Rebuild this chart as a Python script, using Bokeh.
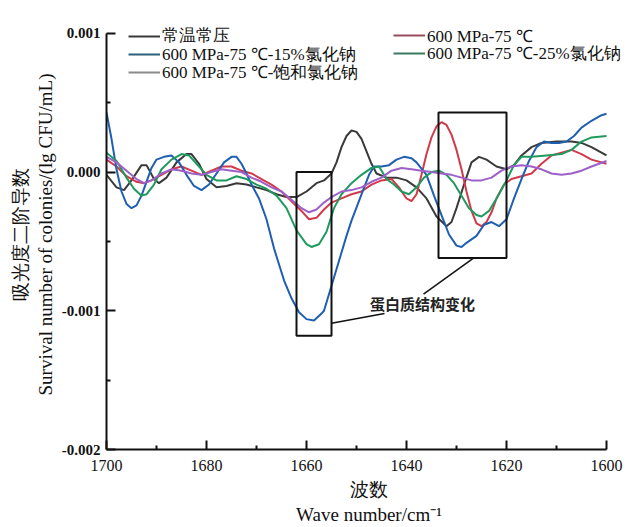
from bokeh.plotting import figure
from bokeh.models import (Range1d, FixedTicker, PrintfTickFormatter, Legend, LegendItem,
                          BoxAnnotation, Label)
from bokeh.embed import file_html
from bokeh.resources import INLINE

# ---------------- data (second-derivative absorbance, units of 1e-3) ----------------
black_x = [1700, 1698, 1696.5, 1695, 1693, 1692, 1690.5, 1689.5, 1688, 1686, 1684, 1683, 1681.5, 1680,
           1678, 1676, 1674, 1672, 1670, 1668, 1666, 1664, 1662, 1660, 1658, 1656.5, 1655, 1654, 1653,
           1652, 1651, 1650, 1649, 1648, 1647, 1646, 1644, 1642, 1640, 1638, 1636, 1634, 1632, 1631,
           1630, 1628.5, 1627, 1625.5, 1624, 1622, 1620, 1618.5, 1617, 1615, 1613, 1610, 1607, 1605,
           1603, 1601, 1600]
black_y = [-0.02, -0.11, -0.13, -0.06, 0.05, 0.05, -0.05, -0.08, -0.04, 0.07, 0.13, 0.13, 0.06, -0.05,
           -0.11, -0.10, -0.08, -0.09, -0.11, -0.13, -0.16, -0.18, -0.18, -0.14, -0.08, -0.06, -0.01, 0.07,
           0.18, 0.26, 0.30, 0.29, 0.24, 0.15, 0.06, -0.01, -0.04, -0.04, -0.06, -0.11, -0.19, -0.32, -0.39,
           -0.36, -0.26, -0.09, 0.07, 0.11, 0.09, 0.04, 0.02, 0.05, 0.12, 0.18, 0.21, 0.22, 0.22, 0.21,
           0.18, 0.14, 0.12]

red_x = [1700, 1698, 1696, 1694, 1692.5, 1691, 1689, 1687, 1685, 1683, 1681, 1679, 1677, 1675, 1673,
         1671, 1669, 1667, 1665, 1663, 1661, 1659.5, 1658, 1656.5, 1655, 1653, 1651, 1649, 1647, 1645,
         1643, 1641.5, 1640, 1639, 1638, 1637, 1636, 1635, 1634, 1633, 1632, 1631, 1630, 1629, 1628,
         1627, 1626, 1625, 1624, 1623, 1622, 1620.5, 1619, 1617, 1615, 1613, 1611, 1609, 1607, 1605,
         1603, 1600]
red_y = [0.09, 0.04, -0.03, -0.07, -0.08, -0.06, -0.02, 0.02, 0.04, 0.01, -0.02, 0.01, 0.04, 0.04, 0.01,
         -0.01, -0.05, -0.09, -0.14, -0.21, -0.28, -0.34, -0.33, -0.27, -0.22, -0.19, -0.16, -0.14, -0.09,
         -0.06, -0.05, -0.11, -0.19, -0.21, -0.16, -0.02, 0.13, 0.25, 0.33, 0.36, 0.34, 0.27, 0.16, 0.02,
         -0.14, -0.28, -0.37, -0.39, -0.36, -0.29, -0.19, -0.09, -0.05, -0.03, -0.01, 0.06, 0.12, 0.14,
         0.16, 0.13, 0.09, 0.06]

blue_x = [1700, 1699, 1698, 1697, 1696, 1695, 1694, 1693, 1692, 1691, 1690, 1688.5, 1687, 1685.5, 1684,
          1682.5, 1681, 1679.5, 1678, 1676.5, 1675, 1674, 1673, 1672, 1671, 1669.5, 1668, 1666.5, 1664.5,
          1663, 1661.5, 1660, 1658.5, 1657, 1656.5, 1654.5, 1652, 1651, 1649, 1647.5, 1646.5, 1645,
          1643.5, 1642, 1640.5, 1639, 1638, 1636, 1634.5, 1633, 1631.5, 1630, 1629, 1628, 1626, 1624.5,
          1623, 1621.5, 1620, 1618.5, 1617, 1615.5, 1614, 1612.5, 1611, 1609.5, 1608, 1606.5, 1605,
          1603, 1601, 1600]
blue_y = [0.43, 0.24, 0.02, -0.14, -0.23, -0.26, -0.24, -0.17, -0.07, 0.03, 0.09, 0.11, 0.12, 0.07, -0.02,
          -0.10, -0.13, -0.09, -0.01, 0.07, 0.11, 0.11, 0.06, -0.01, -0.09, -0.19, -0.34, -0.55, -0.78,
          -0.91, -1.01, -1.06, -1.07, -1.02, -1.00, -0.76, -0.46, -0.35, -0.16, -0.02, 0.04, 0.04,
          0.05, 0.09, 0.11, 0.10, 0.07, -0.02, -0.17, -0.31, -0.45, -0.53, -0.54, -0.51, -0.46, -0.38,
          -0.36, -0.39, -0.34, -0.19, -0.05, 0.08, 0.18, 0.22, 0.21, 0.21, 0.22, 0.26, 0.32,
          0.37, 0.41, 0.42]

green_x = [1700, 1698, 1696, 1694.5, 1693, 1692, 1690.5, 1689, 1687, 1685, 1683.5, 1682, 1680, 1678,
           1676, 1674, 1672, 1670, 1668, 1666, 1664, 1662, 1660, 1659, 1657.5, 1656, 1654.5, 1653, 1651,
           1649, 1647, 1645.5, 1644, 1642.5, 1641, 1639.5, 1638, 1636.5, 1635, 1633.5, 1632, 1630.5,
           1629, 1627.5, 1626, 1625, 1623.5, 1622, 1620, 1618.5, 1617, 1615, 1612, 1609, 1607, 1605,
           1603, 1600]
green_y = [0.14, 0.08, -0.04, -0.12, -0.17, -0.16, -0.09, 0.02, 0.09, 0.13, 0.12, 0.06, -0.02, -0.06,
           -0.06, -0.03, -0.05, -0.09, -0.12, -0.17, -0.26, -0.42, -0.52, -0.54, -0.52, -0.43, -0.26, -0.16,
           -0.08, -0.02, 0.03, 0.04, -0.05, -0.09, -0.14, -0.16, -0.11, -0.04, 0.00, 0.01, -0.02, -0.08,
           -0.17, -0.26, -0.31, -0.32, -0.28, -0.19, -0.06, 0.05, 0.11, 0.11, 0.12, 0.13, 0.16, 0.22,
           0.25, 0.26]

purple_x = [1700, 1698, 1696, 1694, 1692.5, 1691, 1689, 1687, 1685, 1683, 1681, 1679, 1677, 1675, 1673,
            1671, 1669, 1667, 1665, 1663, 1661, 1659.5, 1658, 1656.5, 1655, 1653, 1651, 1649, 1647, 1645,
            1643, 1641, 1639, 1637, 1635, 1633, 1631, 1629, 1627, 1625, 1623, 1621, 1619, 1617, 1615,
            1613, 1611, 1609, 1607, 1605, 1603, 1600]
purple_y = [0.11, 0.07, 0.01, -0.05, -0.08, -0.06, -0.01, 0.02, 0.01, -0.01, -0.02, 0.00, 0.02, 0.01, 0.00,
            -0.04, -0.07, -0.11, -0.14, -0.20, -0.26, -0.29, -0.27, -0.22, -0.18, -0.14, -0.13, -0.11, -0.07,
            -0.04, 0.01, 0.03, 0.02, 0.01, 0.00, -0.01, -0.02, -0.04, -0.06, -0.06, -0.04, 0.01, 0.04, 0.05,
            0.04, 0.02, -0.01, -0.02, -0.01, 0.01, 0.04, 0.08]

series_names = ["常温常压", "600 MPa-75 ℃", "600 MPa-75 ℃-15%氯化钠",
                "600 MPa-75 ℃-25%氯化钠", "600 MPa-75 ℃-饱和氯化钠"]

x_ticks = [1700, 1680, 1660, 1640, 1620, 1600]
x_minor = [1690, 1670, 1650, 1630, 1610]
y_ticks = [-0.002, -0.001, 0.0, 0.001]
y_minor = [-0.0015, -0.0005, 0.0005]

# annotation boxes: (x_left, x_right, y_top, y_bottom)
box1 = (1662, 1655, 0.0, -0.00118)
box2 = (1633.6, 1620, 0.00043, -0.00062)
leader1_x = [1655, 1644.4]
leader1_y = [-0.00109, -0.00102]
leader2_x = [1636.6, 1626.6]
leader2_y = [-0.00088, -0.00062]
note_text = "蛋白质结构变化"
note_pos = (1636.8, -0.00095)

SERIF = "Liberation Serif"
NAN = float("nan")

# ---------------- figure ----------------
# ranges extend a little past the axes so the legend is not clipped; axis lines are bounded
p = figure(width=631, height=527, output_backend="svg", toolbar_location=None,
           x_range=Range1d(1700, 1595), y_range=Range1d(-0.002, 0.0011),
           min_border_left=106, min_border_right=0, min_border_top=19, min_border_bottom=74)
p.outline_line_color = None
p.xgrid.visible = False
p.ygrid.visible = False
p.background_fill_color = "white"
p.border_fill_color = "white"

scale = 1e-3
colors = ["#3a3a3a", "#d23a4c", "#1f5fb2", "#1f9a5e", "#9c60c8"]
data = [(black_x, black_y), (red_x, red_y), (blue_x, blue_y), (green_x, green_y), (purple_x, purple_y)]
for (xs, ys), c in zip(data, colors):
    p.line(xs, [v * scale for v in ys], line_color=c, line_width=2)

# axes
for ax in (p.xaxis[0], p.yaxis[0]):
    ax.axis_line_width = 2
    ax.axis_line_color = "#111111"
    ax.major_tick_line_width = 2
    ax.minor_tick_line_width = 2
    ax.major_tick_line_color = "#111111"
    ax.minor_tick_line_color = "#111111"
    ax.major_tick_in = 9
    ax.major_tick_out = 0
    ax.minor_tick_in = 4
    ax.minor_tick_out = 0
    ax.major_label_text_color = "#111111"
    ax.axis_label_text_color = "#111111"
    ax.axis_label_text_font = SERIF
    ax.axis_label_text_font_style = "normal"
    ax.axis_label_text_font_size = "19px"

p.xaxis.bounds = (1600, 1700)
p.yaxis.bounds = (-0.002, 0.001)
p.xaxis.ticker = FixedTicker(ticks=x_ticks, minor_ticks=x_minor)
p.yaxis.ticker = FixedTicker(ticks=y_ticks, minor_ticks=y_minor)
p.yaxis.formatter = PrintfTickFormatter(format="%.3f")
p.xaxis.major_label_text_font = SERIF
p.xaxis.major_label_text_font_size = "16px"
p.xaxis.major_label_standoff = 10
p.yaxis.major_label_text_font = SERIF
p.yaxis.major_label_text_font_size = "15px"
p.yaxis.major_label_text_font_style = "bold"
p.yaxis.major_label_standoff = 6
p.xaxis.axis_label = "波数\nWave number/cm⁻¹"
p.yaxis.axis_label = "吸光度二阶导数\nSurvival number of colonies/(lg CFU/mL)"
p.xaxis.axis_label_standoff = 5
p.yaxis.axis_label_standoff = 3

# annotation boxes and leaders
for b in (box1, box2):
    p.add_layout(BoxAnnotation(left=b[0], right=b[1], top=b[2], bottom=b[3],
                               fill_alpha=0, line_color="#111111", line_alpha=1.0, line_width=2))
p.line(leader1_x, leader1_y, line_color="#111111", line_width=1.5)
p.line(leader2_x, leader2_y, line_color="#111111", line_width=1.5)
p.add_layout(Label(x=note_pos[0], y=note_pos[1], text=note_text, text_align="center",
                   text_baseline="middle", text_font="Noto Sans CJK SC", text_font_size="15px",
                   text_font_style="bold", text_color="#222222"))

# legends (legend line colours differ slightly from plotted lines, as in the original)
legend_colors = ["#3a3a3a", "#9a4c60", "#2c5f78", "#3a7a62", "#8a8a8a"]
dummies = [p.line([1650, 1650], [NAN, NAN], line_color=c, line_width=2) for c in legend_colors]

# one single-item legend per entry: (series index, x offset in frame, y offset from frame bottom)
legend_slots = [(0, 22, 401.5), (2, 22, 383.5), (4, 22, 365.5), (1, 287, 402), (3, 287, 384)]
for i, lx, ly in legend_slots:
    lg = Legend(items=[LegendItem(label=series_names[i], renderers=[dummies[i]])],
                location=(lx, ly), orientation="vertical", background_fill_alpha=0,
                border_line_color=None, padding=0, spacing=0, margin=0,
                glyph_width=32, glyph_height=24, label_height=24, label_standoff=2,
                label_text_font=SERIF, label_text_font_size="17px", label_text_color="#111111")
    p.add_layout(lg, "center")

open("out.html", "w").write(file_html(p, INLINE))
